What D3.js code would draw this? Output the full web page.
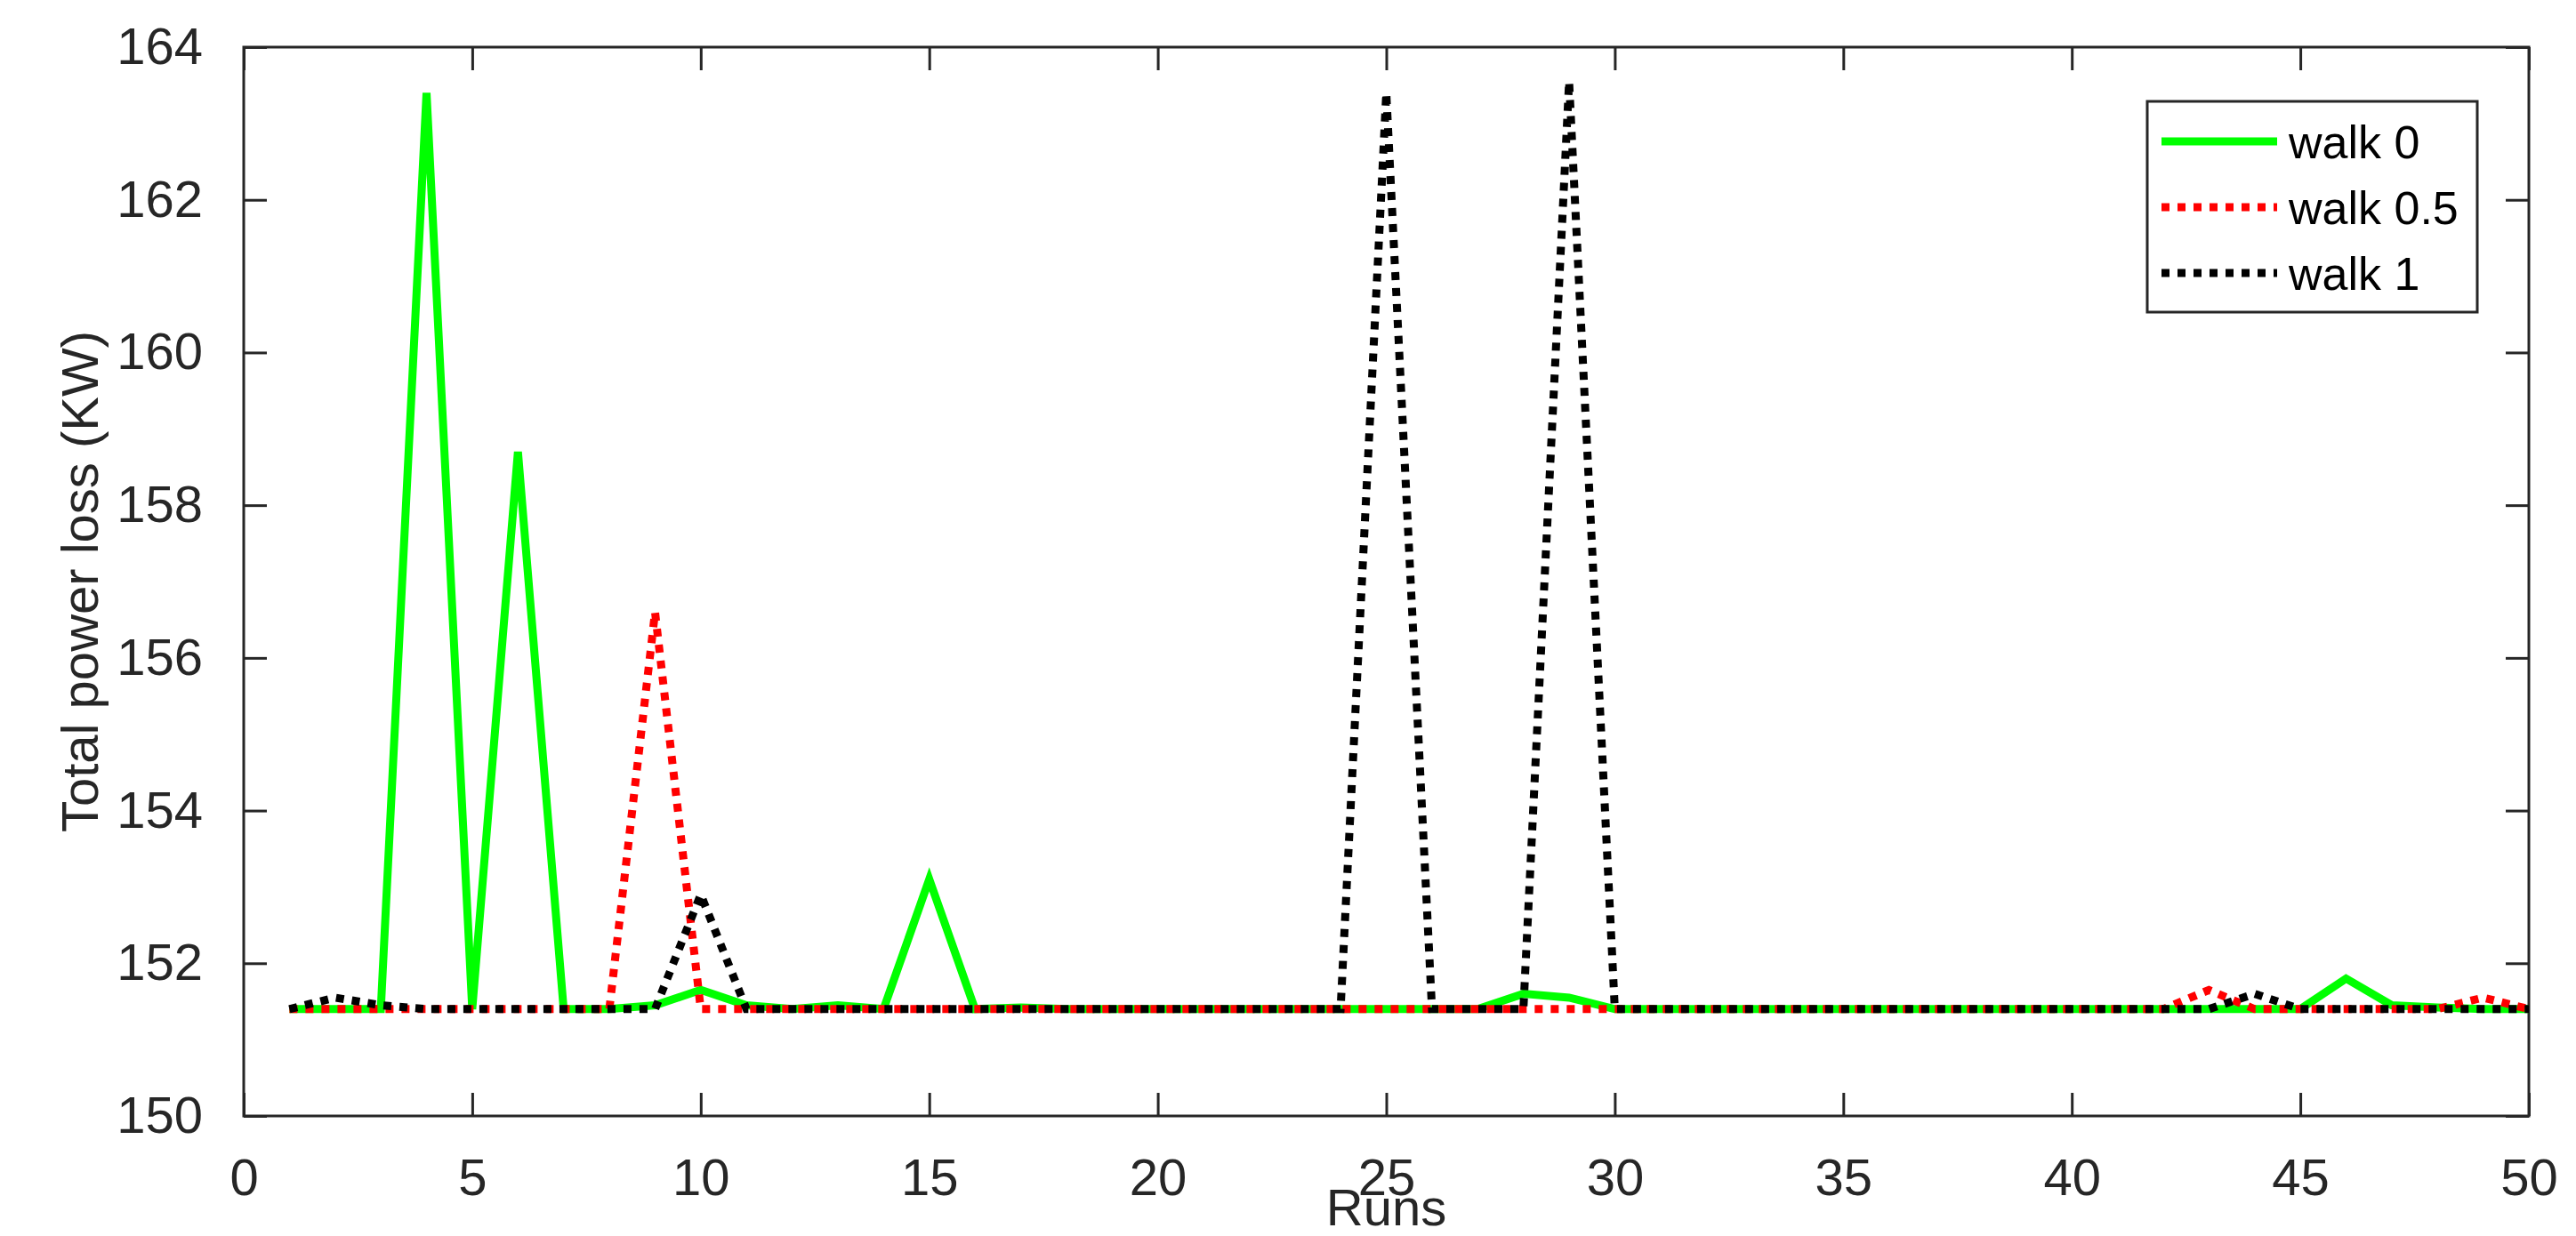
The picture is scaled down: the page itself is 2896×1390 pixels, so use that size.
<!doctype html>
<html>
<head>
<script src="https://d3js.org/d3.v7.min.js"></script>
<style>body{margin:0;background:#fff}</style>
</head>
<body>
<svg id="chart" width="2896" height="1390"></svg>
<script>
const runs = d3.range(1, 51);
const walk0 = [151.4,151.4,151.4,163.4,151.4,158.7,151.4,151.4,151.45,151.65,151.45,151.4,151.45,151.4,153.1,151.4,151.42,151.4,151.4,151.4,
  151.4,151.4,151.4,151.4,151.4,151.4,151.4,151.6,151.55,151.4,151.4,151.4,151.4,151.4,151.4,151.4,151.4,151.4,151.4,151.4,
  151.4,151.4,151.4,151.4,151.4,151.8,151.45,151.42,151.4,151.4];
const walk05 = [151.4,151.4,151.4,151.4,151.4,151.4,151.4,151.4,156.6,151.4,151.4,151.4,151.4,151.4,151.4,151.4,151.4,151.4,151.4,151.4,
  151.4,151.4,151.4,151.4,151.4,151.4,151.4,151.4,151.4,151.4,151.4,151.4,151.4,151.4,151.4,151.4,151.4,151.4,151.4,151.4,
  151.4,151.4,151.65,151.4,151.4,151.4,151.4,151.4,151.55,151.4];
const walk1 = [151.4,151.55,151.45,151.4,151.4,151.4,151.4,151.4,151.4,152.9,151.4,151.4,151.4,151.4,151.4,151.4,151.4,151.4,151.4,151.4,
  151.4,151.4,151.4,151.4,163.4,151.4,151.4,151.4,163.55,151.4,151.4,151.4,151.4,151.4,151.4,151.4,151.4,151.4,151.4,151.4,
  151.4,151.4,151.4,151.6,151.4,151.4,151.4,151.4,151.4,151.4];
const seriesNames = ["walk 0", "walk 0.5", "walk 1"];
const xTicks = d3.range(0, 51, 5);
const yTicks = d3.range(150, 165, 2);

const pLeft = 274, pRight = 2843, pTop = 53, pBottom = 1255;
const svg = d3.select("#chart");
const font = "Liberation Sans, Arial, sans-serif";
const ink = "#262626";

const x = d3.scaleLinear().domain([0, 50]).range([pLeft, pRight]);
const y = d3.scaleLinear().domain([150, 164]).range([pBottom, pTop]);

// box
svg.append("rect").attr("x", pLeft).attr("y", pTop).attr("width", pRight - pLeft).attr("height", pBottom - pTop)
  .attr("fill", "none").attr("stroke", ink).attr("stroke-width", 3);

const tl = 26;
const xa = svg.append("g").attr("transform", `translate(0,${pBottom})`)
  .call(d3.axisBottom(x).tickValues(xTicks).tickSize(-tl).tickPadding(tl + 22));
const xt = svg.append("g").attr("transform", `translate(0,${pTop})`)
  .call(d3.axisTop(x).tickValues(xTicks).tickSize(-tl).tickFormat(""));
const ya = svg.append("g").attr("transform", `translate(${pLeft},0)`)
  .call(d3.axisLeft(y).tickValues(yTicks).tickSize(-tl).tickPadding(tl + 20));
const yr = svg.append("g").attr("transform", `translate(${pRight},0)`)
  .call(d3.axisRight(y).tickValues(yTicks).tickSize(-tl).tickFormat(""));
[xa, xt, ya, yr].forEach(g => {
  g.select(".domain").remove();
  g.selectAll("line").attr("stroke", ink).attr("stroke-width", 3);
  g.selectAll("text").attr("fill", ink).style("font-family", font).style("font-size", "58px");
});

svg.append("text").attr("x", (pLeft + pRight) / 2).attr("y", 1378).attr("text-anchor", "middle")
  .attr("fill", ink).style("font-family", font).style("font-size", "58px").text("Runs");
svg.append("text").attr("transform", `translate(110,${(pTop + pBottom) / 2}) rotate(-90)`).attr("text-anchor", "middle")
  .attr("fill", ink).style("font-family", font).style("font-size", "58px").text("Total power loss (KW)");

const line = d3.line().x((d, i) => x(runs[i])).y(d => y(d));
const styles = [
  { data: walk0, color: "#00ff00", dash: null },
  { data: walk05, color: "#ff0000", dash: "9,9" },
  { data: walk1, color: "#000000", dash: "9,9" }
];
styles.forEach(s => {
  svg.append("path").datum(s.data).attr("fill", "none").attr("stroke", s.color)
    .attr("stroke-width", 9).attr("stroke-dasharray", s.dash).attr("d", line);
});

// legend
const lg = svg.append("g");
lg.append("rect").attr("x", 2414).attr("y", 114).attr("width", 371).attr("height", 237)
  .attr("fill", "#fff").attr("stroke", ink).attr("stroke-width", 3);
styles.forEach((s, i) => {
  const yy = 159 + i * 74;
  lg.append("line").attr("x1", 2430).attr("x2", 2560).attr("y1", yy).attr("y2", yy)
    .attr("stroke", s.color).attr("stroke-width", 9).attr("stroke-dasharray", s.dash);
  lg.append("text").attr("x", 2573).attr("y", yy + 19).attr("fill", "#000")
    .style("font-family", font).style("font-size", "52px").text(seriesNames[i]);
});
</script>
</body>
</html>
